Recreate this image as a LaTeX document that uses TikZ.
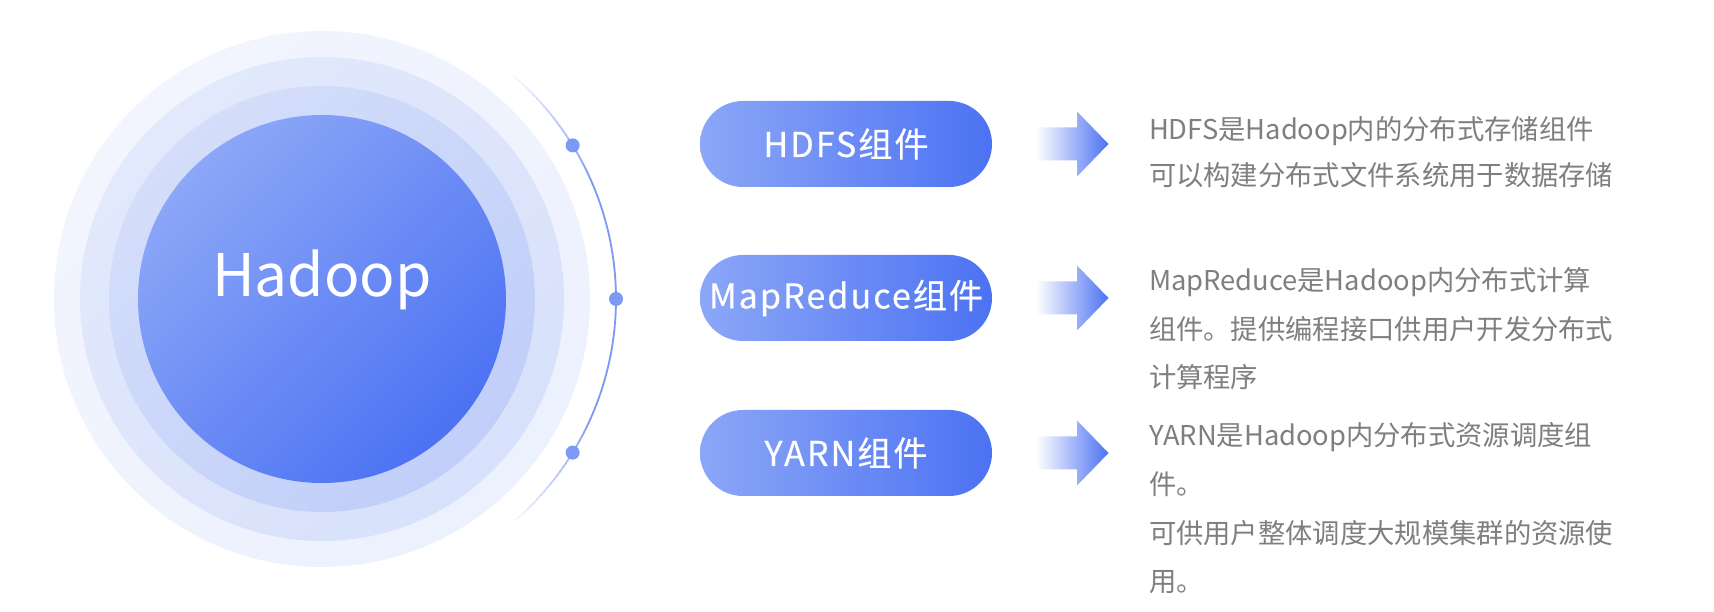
\documentclass[tikz,border=0pt]{standalone}
\usepackage{fontspec}
\usepackage{tikz}
\usetikzlibrary{positioning,calc}
\newfontfamily\cjk{Noto Sans CJK SC}
\newfontfamily\cjkkuan[LetterSpace=6,FakeBold=0.4]{Noto Sans CJK SC}
\definecolor{lan}{HTML}{4C72F3}
\definecolor{qianlan}{HTML}{8CA7F7}
\definecolor{dianlan}{HTML}{7D99F5}
\definecolor{hui}{HTML}{7F7F7F}

\begin{document}
\begin{tikzpicture}
\tikzset{basic/.style={inner sep=0pt, outer sep=0pt}}
\tikzset{yuan/.style={basic, circle, minimum size=3.68cm,
  top color=qianlan, bottom color=lan, shading angle=45}}
\tikzset{dian/.style={basic, circle, minimum size=0.14cm, fill=dianlan}}
\tikzset{jiaonang/.style={basic, rectangle, rounded corners=0.43cm, minimum width=2.92cm, minimum height=0.86cm,
  left color=qianlan, right color=lan, text=white,
  font=\cjkkuan\fontsize{9.7pt}{11pt}\selectfont}}
\tikzset{jiantou/.style={left color=white, right color=lan}}
\tikzset{wenzi/.style={basic, align=left, text=hui, font=\cjk\fontsize{7.77pt}{13.94pt}\selectfont}}
\tikzset{xian/.style={draw=dianlan, line width=0.018cm}}

\fill[white] (0,0) rectangle (17.14,6.12);
\useasboundingbox (0,0) rectangle (17.14,6.12);

\coordinate (10) at (3.22,3.13);
\shade[top color={rgb,255:red,242;green,245;blue,254}, bottom color={rgb,255:red,236;green,241;blue,254}, shading angle=45] (10) circle (2.68);
\shade[top color={rgb,255:red,226;green,233;blue,252}, bottom color={rgb,255:red,216;green,225;blue,251}, shading angle=45] (10) circle (2.42);
\shade[top color={rgb,255:red,212;green,222;blue,250}, bottom color={rgb,255:red,192;green,206;blue,249}, shading angle=45] (10) circle (2.13);

\node[yuan] (11) at (10) {};
\node[basic, text=white, font=\cjk\fontsize{16.7pt}{18pt}\selectfont, anchor=base] (12) at (3.22,3.15) {Hadoop};

% arc fading at both ends
\foreach \a in {-50,-49,...,49}{
  \pgfmathsetmacro{\op}{min(1,max(0,(50-abs(\a+0.5))/26))}
  \draw[xian, draw opacity=\op] ($(10)+(\a:2.94)$) arc[start angle=\a, delta angle=1.05, radius=2.94cm];
}
\node[dian] (21) at ($(10)+(31.5:2.94)$) {};
\node[dian] (22) at ($(10)+(0:2.94)$) {};
\node[dian] (23) at ($(10)+(-31.5:2.94)$) {};

\node[jiaonang] (31) at (8.46,4.68) {HDFS组件};
\node[jiaonang] (32) at (8.46,3.14) {MapReduce组件};
\node[jiaonang] (33) at (8.46,1.59) {YARN组件};

% fat arrows after each pill
\foreach \n in {31,32,33}{
  \shade[jiantou] ([xshift=0.44cm,yshift=0.165cm]\n.east) -- ++(0.41,0) -- ++(0,0.16) -- ++(0.315,-0.325)
    -- ++(-0.315,-0.325) -- ++(0,0.16) -- ++(-0.41,0) -- cycle;
}

\node[wenzi, anchor=base west] (51) at (11.49,4.26) {HDFS是Hadoop内的分布式存储组件\\[-0.85pt]可以构建分布式文件系统用于数据存储};
\node[wenzi, anchor=base west] (52) at (11.49,2.24) {MapReduce是Hadoop内分布式计算\\组件。提供编程接口供用户开发分布式\\计算程序};
\node[wenzi, anchor=base west] (53) at (11.49,0.20) {YARN是Hadoop内分布式资源调度组\\件。\\可供用户整体调度大规模集群的资源使\\用。};
\end{tikzpicture}
\end{document}
